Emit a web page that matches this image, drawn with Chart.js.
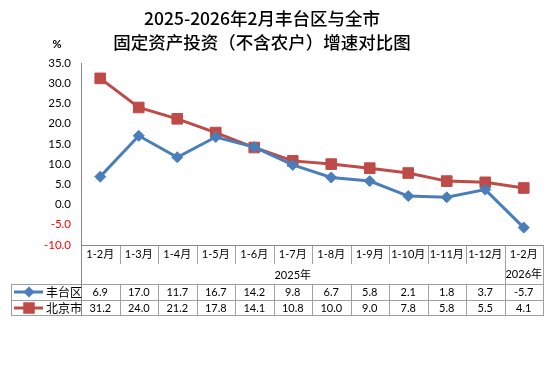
<!DOCTYPE html>
<html>
<head>
<meta charset="utf-8">
<script src="https://cdn.jsdelivr.net/npm/chart.js@4/dist/chart.umd.min.js"></script>
<style>
  html, body { margin: 0; padding: 0; background: #fff; }
  #wrap { width: 554px; height: 386px; position: relative; }
</style>
</head>
<body>
<div id="wrap"><canvas id="chart" width="554" height="386"></canvas></div>
<script>
// Chart data
const categories = ["1-2月", "1-3月", "1-4月", "1-5月", "1-6月", "1-7月", "1-8月", "1-9月", "1-10月", "1-11月", "1-12月", "1-2月"];
const fengtai = [6.9, 17.0, 11.7, 16.7, 14.2, 9.8, 6.7, 5.8, 2.1, 1.8, 3.7, -5.7];
const beijing = [31.2, 24.0, 21.2, 17.8, 14.1, 10.8, 10.0, 9.0, 7.8, 5.8, 5.5, 4.1];
const yearLabels = ["2025年", "2026年"];
const titleLines = ["2025-2026年2月丰台区与全市", "固定资产投资（不含农户）增速对比图"];

// Colors
const colors = {
  fengtai: "#4a7ebb",
  beijing: "#be4b48",
  axis: "#868686",
  table: "#a0a0a0",
  text: "#000",
  negative: "#ff0000",
};

const numFont = "'Lato', 'Noto Sans CJK SC', sans-serif";
const cjkFont = "'Noto Sans CJK SC', sans-serif";

// Rows of the table below the plot
const tableY = { axis: 245, headerLine: 264, row1: 284, row2: 300, bottom: 315 };
const tableLeft = 11;

// Draw title, unit and the data table
const tablePlugin = {
  id: "tablePlugin",
  afterDraw(chart) {
    const ctx = chart.ctx;
    const area = chart.chartArea;
    const x = chart.scales.x;
    const n = categories.length;
    const bounds = [area.left];
    for (let i = 1; i < n; i++) {
      bounds.push((x.getPixelForValue(i - 1) + x.getPixelForValue(i)) / 2);
    }
    bounds.push(area.right);

    ctx.save();
    // title
    ctx.fillStyle = colors.text;
    ctx.textAlign = "center";
    ctx.textBaseline = "middle";
    ctx.font = "500 17.5px " + cjkFont;
    ctx.fillText(titleLines[0], 262, 18);
    ctx.fillText(titleLines[1], 262, 42);
    ctx.font = "bold 11px " + numFont;
    ctx.fillText("%", 57, 44);

    // table lines
    ctx.lineWidth = 1;
    ctx.strokeStyle = colors.table;
    const hline = (x1, x2, y) => {
      ctx.beginPath(); ctx.moveTo(x1, y + 0.5); ctx.lineTo(x2, y + 0.5); ctx.stroke();
    };
    const vline = (xx, y1, y2) => {
      ctx.beginPath(); ctx.moveTo(Math.round(xx) + 0.5, y1); ctx.lineTo(Math.round(xx) + 0.5, y2); ctx.stroke();
    };
    hline(tableLeft, area.right, tableY.row1);
    hline(tableLeft, area.right, tableY.row2);
    hline(tableLeft, area.right, tableY.bottom);
    vline(tableLeft, tableY.row1, tableY.bottom + 1);
    vline(area.right, tableY.axis, tableY.bottom + 1);
    for (let i = 1; i < n; i++) {
      const bottom = i === n - 1 ? tableY.bottom : tableY.headerLine;
      vline(bounds[i], tableY.axis, bottom);
      vline(bounds[i], tableY.row1, tableY.bottom);
    }
    // axis lines
    ctx.strokeStyle = colors.axis;
    vline(area.left, area.top, tableY.bottom + 1);
    hline(area.left, area.right, tableY.axis);

    // category labels
    ctx.fillStyle = colors.text;
    ctx.font = "11px " + numFont;
    for (let i = 0; i < n; i++) {
      const cx = x.getPixelForValue(i);
      ctx.fillText(categories[i], cx, 254);
      ctx.fillText(fengtai[i].toFixed(1), cx, 292);
      ctx.fillText(beijing[i].toFixed(1), cx, 308);
    }
    ctx.fillText(yearLabels[0], (bounds[0] + bounds[n - 1]) / 2, 275);
    ctx.fillText(yearLabels[1], x.getPixelForValue(n - 1), 274);

    // legend cells
    const legendRow = (y, color, style, radius, label) => {
      ctx.strokeStyle = color;
      ctx.lineWidth = 3;
      ctx.beginPath(); ctx.moveTo(14, y); ctx.lineTo(43, y); ctx.stroke();
      Chart.helpers.drawPoint(ctx, { pointStyle: style, radius: radius, borderWidth: 1 }, 29, y);
      ctx.fillStyle = color;
      ctx.fill();
      ctx.fillStyle = colors.text;
      ctx.font = "12px " + cjkFont;
      ctx.textAlign = "left";
      ctx.fillText(label, 46, y);
      ctx.textAlign = "center";
      ctx.font = "11px " + numFont;
    };
    legendRow(292, colors.fengtai, "rectRot", 3.5, "丰台区");
    legendRow(308, colors.beijing, "rect", 6, "北京市");
    ctx.restore();
  },
};

const lineSet = (label, data, color, style, radius) => ({
  label: label,
  data: data,
  borderColor: color,
  backgroundColor: color,
  borderWidth: 3,
  pointStyle: style,
  pointRadius: radius,
  pointBorderWidth: 1,
  pointBackgroundColor: color,
  pointBorderColor: color,
  tension: 0,
});

new Chart(document.getElementById("chart"), {
  type: "line",
  data: {
    labels: categories,
    datasets: [
      lineSet("丰台区", fengtai, colors.fengtai, "rectRot", 5.5),
      lineSet("北京市", beijing, colors.beijing, "rect", 7.5),
    ],
  },
  options: {
    responsive: false,
    animation: false,
    layout: { padding: { left: 0, top: 63, right: 11, bottom: 386 - 245 } },
    plugins: { legend: { display: false }, tooltip: { enabled: false } },
    scales: {
      x: { display: false, offset: true },
      y: {
        min: -10,
        max: 35,
        afterFit: (scale) => { scale.width = 81; },
        ticks: {
          stepSize: 5,
          padding: 10,
          font: { family: numFont, size: 11.5 },
          color: (c) => (c.tick.value < 0 ? colors.negative : colors.text),
          callback: (v) => Number(v).toFixed(1),
        },
        grid: { display: false, drawTicks: false },
        border: { display: false },
      },
    },
  },
  plugins: [tablePlugin],
});
</script>
</body>
</html>
